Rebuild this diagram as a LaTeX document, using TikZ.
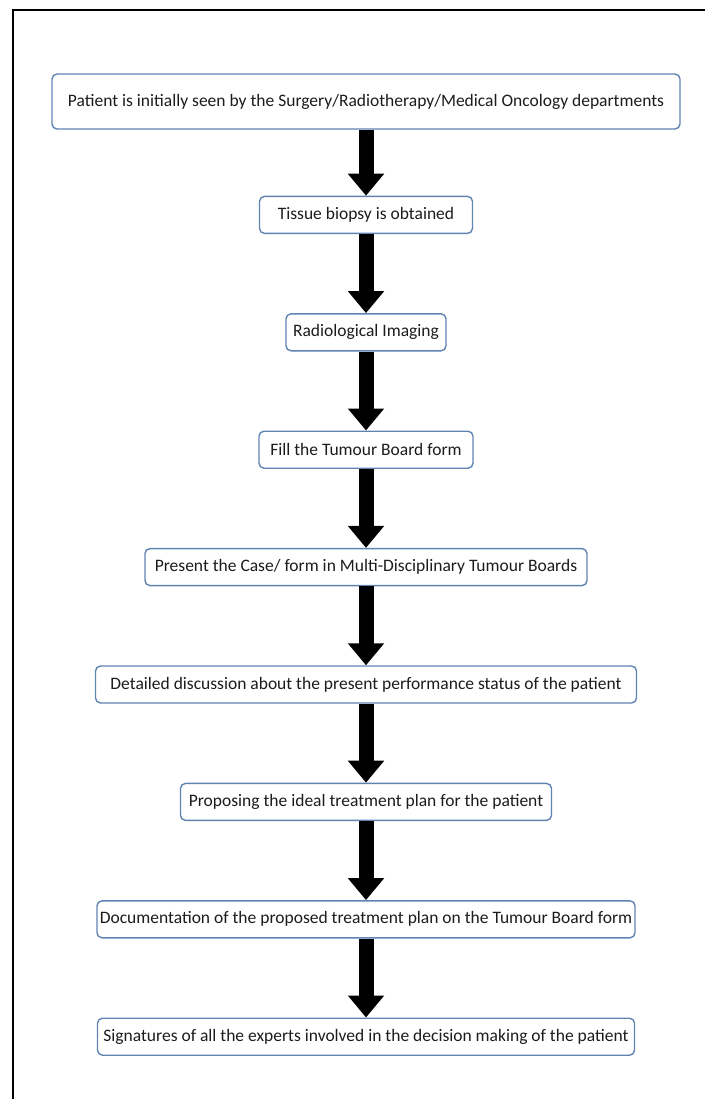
\documentclass[tikz,border=0pt]{standalone}
\usepackage{fontspec}
\setmainfont{Carlito}
\usepackage{xcolor}
\usetikzlibrary{arrows.meta, positioning}
\definecolor{boxblue}{RGB}{96,132,178}
\definecolor{textgray}{RGB}{28,28,28}
\tikzset{
    stepbox/.style={rectangle, rounded corners=5pt, draw=boxblue, line width=1.4pt, fill=white, text=textgray, minimum height=37pt, inner sep=2pt, font=\fontsize{17.5}{19}\selectfont},
    bigarrow/.style={-{Triangle[width=35pt, length=22pt]}, line width=15pt, black}
}

\begin{document}
\begin{tikzpicture}[x=1pt, y=1pt, node distance=79pt]
            \useasboundingbox (0,0) rectangle (705,-1099);
            % outer frame
            \draw[line width=1.6pt] (13,-1099) |- (705,-10);

            \node (seen) [stepbox, minimum width=628pt, minimum height=55pt] at (366,-101.5) {Patient is initially seen by the Surgery/Radiotherapy/Medical Oncology departments};
            \node (biopsy) [stepbox, minimum width=213pt, below=66pt of seen] {Tissue biopsy is obtained};
            \node (imaging) [stepbox, minimum width=160pt, below=of biopsy] {Radiological Imaging};
            \node (fillform) [stepbox, minimum width=214pt, below=of imaging] {Fill the Tumour Board form};
            \node (present) [stepbox, minimum width=442pt, below=of fillform] {Present the Case/ form in Multi-Disciplinary Tumour Boards};
            \node (discuss) [stepbox, minimum width=541pt, below=of present] {Detailed discussion about the present performance status of the patient};
            \node (propose) [stepbox, minimum width=371pt, below=of discuss] {Proposing the ideal treatment plan for the patient};
            \node (document) [stepbox, minimum width=538pt, below=of propose] {Documentation of the proposed treatment plan on the Tumour Board form};
            \node (signatures) [stepbox, minimum width=537pt, below=of document] {Signatures of all the experts involved in the decision making of the patient};

            \draw[bigarrow] (seen) -- (biopsy);
            \draw[bigarrow] (biopsy) -- (imaging);
            \draw[bigarrow] (imaging) -- (fillform);
            \draw[bigarrow] (fillform) -- (present);
            \draw[bigarrow] (present) -- (discuss);
            \draw[bigarrow] (discuss) -- (propose);
            \draw[bigarrow] (propose) -- (document);
            \draw[bigarrow] (document) -- (signatures);
        \end{tikzpicture}
\end{document}
